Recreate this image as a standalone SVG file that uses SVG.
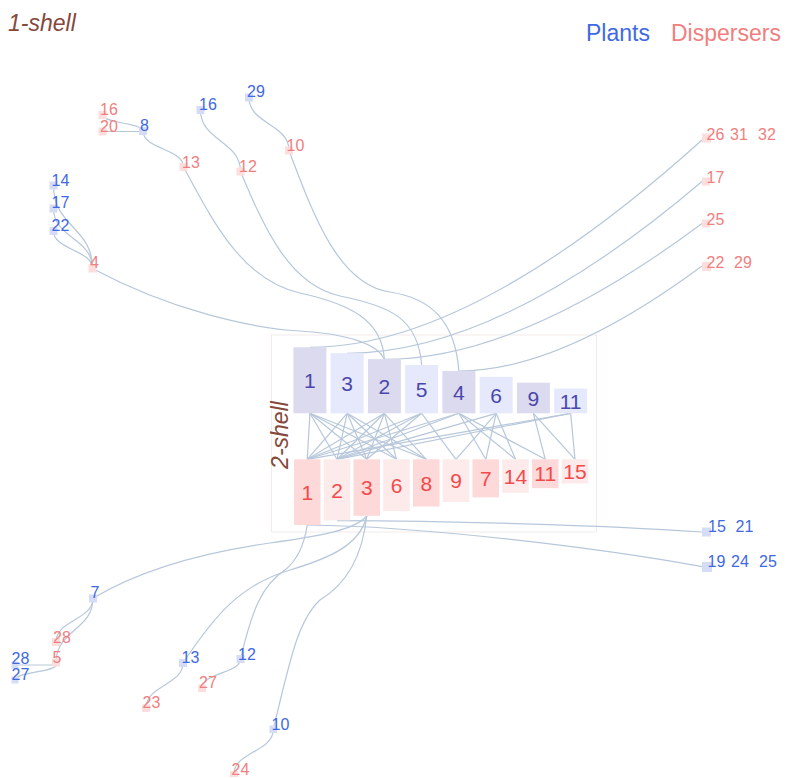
<svg xmlns="http://www.w3.org/2000/svg" width="787" height="778" viewBox="0 0 787 778">
<style>
text{font-family:"Liberation Sans",Arial,sans-serif}
.pl{fill:#4169e1;font-size:16px}
.ds{fill:#f08080;font-size:16px}
.mp{fill:#d5dcf6}
.md{fill:#fddede}
.shell{fill:#85483a;font-style:italic;font-size:23px}
.lk path,.lk line{fill:none;stroke:#b7c7db;stroke-width:1.2}
.pd{fill:#dcdaee}.pt{fill:#e5e9fb}
.dd{fill:#fed9d9}.dt{fill:#fdeaea}
.bp{fill:#4a47ad;font-size:21px;text-anchor:middle}
.bd{fill:#f24a4a;font-size:21px;text-anchor:middle}
</style>
<rect id="frame" x="271.5" y="335" width="325" height="197" fill="none" stroke="#f3ebeb" stroke-width="1"/>
<text class="shell" x="8" y="31">1-shell</text>
<text class="shell" transform="translate(288,435) rotate(-90)" text-anchor="middle">2-shell</text>
<text x="586" y="41" style="fill:#4169e1;font-size:23px">Plants</text>
<text x="671" y="41" style="fill:#f08080;font-size:23px">Dispersers</text>

<g id="connectors" class="lk">
<!-- inner -->
<line x1="309.9" y1="413.3" x2="307.25" y2="459.3"/>
<line x1="309.9" y1="413.3" x2="337" y2="459.3"/>
<line x1="309.9" y1="413.3" x2="366.75" y2="459.3"/>
<line x1="309.9" y1="413.3" x2="396.5" y2="459.3"/>
<line x1="309.9" y1="413.3" x2="426.25" y2="459.3"/>
<line x1="347.15" y1="413.3" x2="307.25" y2="459.3"/>
<line x1="347.15" y1="413.3" x2="337" y2="459.3"/>
<line x1="347.15" y1="413.3" x2="366.75" y2="459.3"/>
<line x1="347.15" y1="413.3" x2="396.5" y2="459.3"/>
<line x1="347.15" y1="413.3" x2="426.25" y2="459.3"/>
<line x1="384.4" y1="413.3" x2="307.25" y2="459.3"/>
<line x1="384.4" y1="413.3" x2="337" y2="459.3"/>
<line x1="384.4" y1="413.3" x2="366.75" y2="459.3"/>
<line x1="384.4" y1="413.3" x2="396.5" y2="459.3"/>
<line x1="384.4" y1="413.3" x2="426.25" y2="459.3"/>
<line x1="421.65" y1="413.3" x2="307.25" y2="459.3"/>
<line x1="421.65" y1="413.3" x2="337" y2="459.3"/>
<line x1="421.65" y1="413.3" x2="366.75" y2="459.3"/>
<line x1="421.65" y1="413.3" x2="456" y2="459.3"/>
<line x1="458.9" y1="413.3" x2="307.25" y2="459.3"/>
<line x1="458.9" y1="413.3" x2="337" y2="459.3"/>
<line x1="458.9" y1="413.3" x2="485.75" y2="459.3"/>
<line x1="458.9" y1="413.3" x2="515.5" y2="459.3"/>
<line x1="458.9" y1="413.3" x2="545.25" y2="459.3"/>
<line x1="496.15" y1="413.3" x2="337" y2="459.3"/>
<line x1="496.15" y1="413.3" x2="456" y2="459.3"/>
<line x1="496.15" y1="413.3" x2="485.75" y2="459.3"/>
<line x1="496.15" y1="413.3" x2="515.5" y2="459.3"/>
<line x1="533.4" y1="413.3" x2="545.25" y2="459.3"/>
<line x1="533.4" y1="413.3" x2="575" y2="459.3"/>
<line x1="570.65" y1="413.3" x2="575" y2="459.3"/>
<line x1="570.65" y1="413.3" x2="307.25" y2="459.3"/>
<line x1="570.65" y1="413.3" x2="337" y2="459.3"/>
<!-- top right -->
<path d="M310,347.3 Q472,347.3 702,140"/>
<path d="M347.15,353.3 Q500,353.3 702,181.5"/>
<path d="M384.4,359.3 Q520,359.3 702,223.5"/>
<path d="M458.9,371 Q560,371 702,266"/>
<!-- top left long -->
<path d="M92.5,268.5 C170,310 250,328 300,331 C350,334 378,345 384.4,359.3"/>
<path d="M183.5,167 C210,215 240,280 300,293 C350,304 382,320 384.4,359.3"/>
<path d="M240.5,171.5 C265,230 290,285 340,296 C390,306 418,318 421.65,365"/>
<path d="M289,150.5 C315,220 340,285 390,292 C430,298 455,320 458.9,371"/>
<!-- top left short -->
<path d="M53.5,185.5 C53.5,227 92.5,227 92.5,268.5"/>
<path d="M53.5,208.5 C53.5,238 92.5,238 92.5,268.5"/>
<path d="M53.5,231 C53.5,250 92.5,250 92.5,268.5"/>
<path d="M102.5,115 C102.5,123 143,123 143,131"/>
<path d="M102.5,131.5 L143,131.5"/>
<path d="M143,131 C143,149 183.5,149 183.5,167"/>
<path d="M200.5,110 C200.5,141 240.5,141 240.5,171.5"/>
<path d="M249,97.5 C249,124 289,124 289,150.5"/>
<!-- bottom right -->
<path d="M337,520.7 C450,521 600,525 702,532"/>
<path d="M307.25,525 C420,526 600,548 702,566.7"/>
<!-- bottom long -->
<path d="M93,598.3 C140,570 200,553 270,543 C320,536 355,530 366.75,516"/>
<path d="M240.5,659 C252,610 262,585 285,570 C300,558 305,540 307.25,525"/>
<path d="M183,663 C215,615 240,585 290,570 C330,558 360,545 366.75,516"/>
<path d="M273.3,729.3 C290,660 298,620 320,600 C345,585 362,560 366.75,516"/>
<!-- bottom short -->
<path d="M93,598.3 C93,620 56,620 56,642"/>
<path d="M93,598.3 C93,630 56,630 56,662.5"/>
<path d="M56,665 L15,665"/>
<path d="M56,665 C56,672 15,672 15,680"/>
<path d="M183,663 C183,685 146,685 146,708.3"/>
<path d="M240.5,659 C240.5,673 202,673 202,688.3"/>
<path d="M273.3,729.3 C273.3,752 234,752 234,774"/>
</g>

<g id="core-plants">
<g id="p1"><rect class="pd" x="293.4" y="347.3" width="33" height="66"/><text class="bp" x="309.9" y="388">1</text></g>
<g id="p3"><rect class="pt" x="330.65" y="353.2" width="33" height="60.1"/><text class="bp" x="347.15" y="391">3</text></g>
<g id="p2"><rect class="pd" x="367.9" y="359.1" width="33" height="54.2"/><text class="bp" x="384.4" y="394">2</text></g>
<g id="p5"><rect class="pt" x="405.15" y="365" width="33" height="48.3"/><text class="bp" x="421.65" y="397">5</text></g>
<g id="p4"><rect class="pd" x="442.4" y="370.9" width="33" height="42.4"/><text class="bp" x="458.9" y="400">4</text></g>
<g id="p6"><rect class="pt" x="479.65" y="376.8" width="33" height="36.5"/><text class="bp" x="496.15" y="403">6</text></g>
<g id="p9"><rect class="pd" x="516.9" y="382.7" width="33" height="30.6"/><text class="bp" x="533.4" y="406">9</text></g>
<g id="p11"><rect class="pt" x="554.15" y="388.6" width="33" height="24.7"/><text class="bp" x="570.65" y="409">11</text></g>
</g>

<g id="core-dispersers">
<g id="d1"><rect class="dd" x="294" y="459.3" width="26.5" height="65.7"/><text class="bd" x="307.25" y="500">1</text></g>
<g id="d2"><rect class="dt" x="323.75" y="459.3" width="26.5" height="61.1"/><text class="bd" x="337" y="498">2</text></g>
<g id="d3"><rect class="dd" x="353.5" y="459.3" width="26.5" height="56.5"/><text class="bd" x="366.75" y="495">3</text></g>
<g id="d6"><rect class="dt" x="383.25" y="459.3" width="26.5" height="51.9"/><text class="bd" x="396.5" y="493">6</text></g>
<g id="d8"><rect class="dd" x="413" y="459.3" width="26.5" height="47.3"/><text class="bd" x="426.25" y="491">8</text></g>
<g id="d9"><rect class="dt" x="442.75" y="459.3" width="26.5" height="42.7"/><text class="bd" x="456" y="488">9</text></g>
<g id="d7"><rect class="dd" x="472.5" y="459.3" width="26.5" height="38.1"/><text class="bd" x="485.75" y="486">7</text></g>
<g id="d14"><rect class="dt" x="502.25" y="459.3" width="26.5" height="33.5"/><text class="bd" x="515.5" y="484">14</text></g>
<g id="d11"><rect class="dd" x="532" y="459.3" width="26.5" height="28.9"/><text class="bd" x="545.25" y="481">11</text></g>
<g id="d15"><rect class="dt" x="561.75" y="459.3" width="26.5" height="24.3"/><text class="bd" x="575" y="479">15</text></g>
</g>

<g id="shell1">
<g id="n-d16"><rect class="md" x="98.5" y="111" width="8" height="8"/><text class="ds" x="100" y="115">16</text></g>
<g id="n-d20"><rect class="md" x="98.5" y="127.5" width="8" height="8"/><text class="ds" x="100" y="131.5">20</text></g>
<g id="n-p8"><rect class="mp" x="139" y="127" width="8" height="8"/><text class="pl" x="140" y="131">8</text></g>
<g id="n-d13"><rect class="md" x="179.5" y="163" width="8" height="8"/><text class="ds" x="182" y="168">13</text></g>
<g id="n-p16"><rect class="mp" x="196.5" y="106" width="8" height="8"/><text class="pl" x="199" y="110">16</text></g>
<g id="n-d12"><rect class="md" x="236.5" y="167.5" width="8" height="8"/><text class="ds" x="239" y="172">12</text></g>
<g id="n-p29"><rect class="mp" x="245" y="93.5" width="8" height="8"/><text class="pl" x="247" y="97">29</text></g>
<g id="n-d10"><rect class="md" x="285" y="146.5" width="8" height="8"/><text class="ds" x="286.5" y="151">10</text></g>
<g id="n-p14"><rect class="mp" x="49.5" y="181.5" width="8" height="8"/><text class="pl" x="51.5" y="186">14</text></g>
<g id="n-p17"><rect class="mp" x="49.5" y="204.5" width="8" height="8"/><text class="pl" x="51.5" y="208.3">17</text></g>
<g id="n-p22"><rect class="mp" x="49.5" y="227" width="8" height="8"/><text class="pl" x="51.5" y="230.7">22</text></g>
<g id="n-d4"><rect class="md" x="88.5" y="264.5" width="8" height="8"/><text class="ds" x="90" y="268.3">4</text></g>
<g id="n-d26"><rect class="md" x="702" y="133.5" width="9" height="9"/><text class="ds" x="706.5" y="140">26</text><text class="ds" x="730" y="140">31</text><text class="ds" x="758" y="140">32</text></g>
<g id="n-d17"><rect class="md" x="702" y="177.5" width="8" height="8"/><text class="ds" x="706.5" y="182.7">17</text></g>
<g id="n-d25"><rect class="md" x="702" y="219.5" width="8" height="8"/><text class="ds" x="706.5" y="225">25</text></g>
<g id="n-d22"><rect class="md" x="702" y="262" width="9" height="9"/><text class="ds" x="706.5" y="268.3">22</text><text class="ds" x="734" y="268.3">29</text></g>
<g id="n-p15"><rect class="mp" x="702" y="527.5" width="9" height="9"/><text class="pl" x="708" y="532.3">15</text><text class="pl" x="735.5" y="532.3">21</text></g>
<g id="n-p19"><rect class="mp" x="702" y="562" width="10" height="10"/><text class="pl" x="707.5" y="567.3">19</text><text class="pl" x="731" y="567.3">24</text><text class="pl" x="759" y="567.3">25</text></g>
<g id="n-p7"><rect class="mp" x="89" y="594.5" width="8" height="8"/><text class="pl" x="90.5" y="598.3">7</text></g>
<g id="n-d28"><rect class="md" x="52" y="638" width="8" height="8"/><text class="ds" x="53" y="642.7">28</text></g>
<g id="n-d5"><rect class="md" x="52" y="658.5" width="8" height="8"/><text class="ds" x="52.5" y="663.3">5</text></g>
<g id="n-p28"><rect class="mp" x="11.5" y="661.5" width="7" height="7"/><text class="pl" x="11.5" y="664">28</text></g>
<g id="n-p27"><rect class="mp" x="11.5" y="676.5" width="7" height="7"/><text class="pl" x="11.5" y="680">27</text></g>
<g id="n-p13"><rect class="mp" x="179" y="659" width="8" height="8"/><text class="pl" x="181.5" y="663.3">13</text></g>
<g id="n-d23"><rect class="md" x="142" y="704.5" width="8" height="7.5"/><text class="ds" x="142.5" y="708.3">23</text></g>
<g id="n-p12"><rect class="mp" x="236.5" y="655" width="8" height="8"/><text class="pl" x="238" y="660">12</text></g>
<g id="n-d27"><rect class="md" x="198" y="684.5" width="8" height="7.5"/><text class="ds" x="199" y="688.3">27</text></g>
<g id="n-p10"><rect class="mp" x="269.5" y="725.5" width="7.5" height="7.5"/><text class="pl" x="271.5" y="730">10</text></g>
<g id="n-d24"><rect class="md" x="230" y="771" width="8" height="6"/><text class="ds" x="231.5" y="775">24</text></g>
</g>
</svg>
